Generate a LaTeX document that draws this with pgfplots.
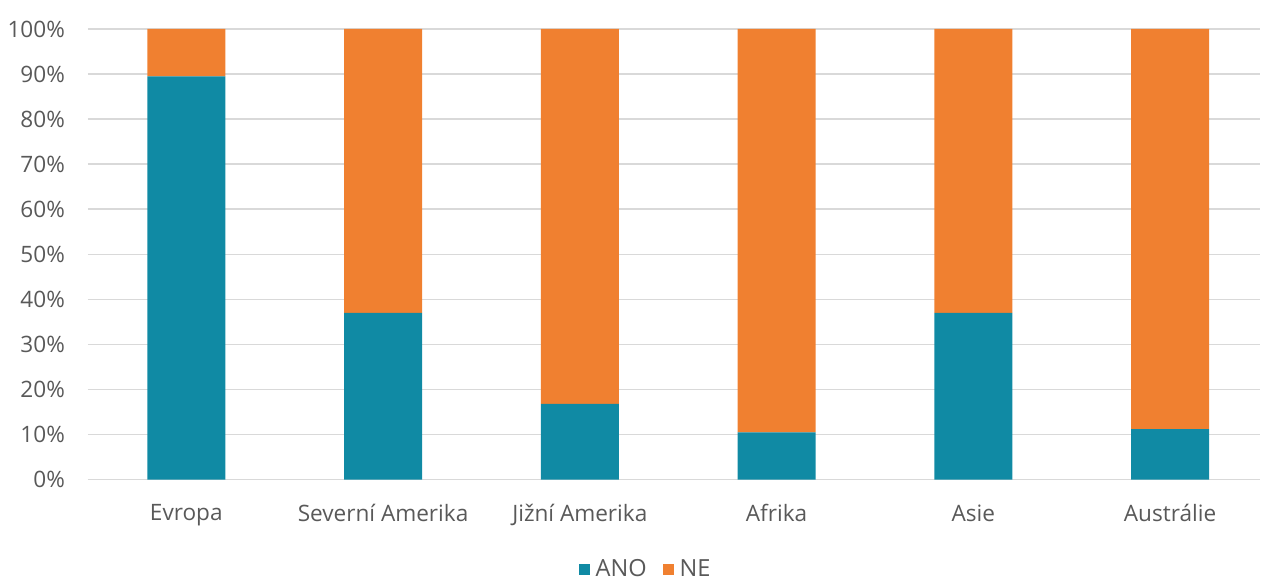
\documentclass[border=0pt]{standalone}
\usepackage{fontspec}
\setmainfont{Open Sans}
\usepackage{pgfplots}
\pgfplotsset{compat=1.18}

\definecolor{ano}{RGB}{16,138,164}
\definecolor{ne}{RGB}{240,128,48}
\definecolor{gridc}{RGB}{217,217,217}
\definecolor{txt}{RGB}{89,89,89}

\begin{document}
\begin{tikzpicture}
\begin{axis}[
  scale only axis,
  width=586.3pt, height=225.5pt,
  ybar stacked,
  bar width=39pt,
  xmin=-0.5, xmax=5.455,
  ymin=0, ymax=100,
  xtick=data,
  xticklabels={Evropa, Severní Amerika, Jižní Amerika, Afrika, Asie, Austrálie},
  ytick={0,10,...,100},
  yticklabel={\pgfmathprintnumber{\tick}\%},
  /pgf/number format/assume math mode=true,
  ymajorgrids,
  grid style={gridc, line width=0.8pt},
  axis line style={draw=none},
  axis x line*=bottom,
  axis y line*=left,
  x axis line style={draw=gridc, line width=0.8pt},
  major tick length=0pt,
  tick style={draw=none},
  ticklabel style={font=\fontsize{11.3}{13}\selectfont, text=txt},
  yticklabel style={xshift=-8pt},
  xticklabel style={yshift=-9pt},
  legend style={
    at={(0.476,-0.2)}, anchor=center,
    draw=none, legend columns=2, inner sep=0pt,
    nodes={inner sep=1pt},
    font=\fontsize{11.8}{13}\selectfont, text=txt,
    /tikz/every odd column/.append style={column sep=2pt},
    /tikz/every even column/.append style={column sep=7pt},
  },
  legend image code/.code={\fill[#1] (0pt,-2.75pt) rectangle (5.5pt,2.75pt);},
]
\addplot[fill=ano, draw=none] coordinates {(0,89.5) (1,37) (2,16.8) (3,10.5) (4,37) (5,11.2)};
\addplot[fill=ne, draw=none] coordinates {(0,10.5) (1,63) (2,83.2) (3,89.5) (4,63) (5,88.8)};
\legend{ANO, NE}
\end{axis}
\path ([xshift=-44pt, yshift=14.5pt]current axis.north west);
\path ([xshift=0.7pt, yshift=-50.5pt]current axis.south east);
\end{tikzpicture}
\end{document}
